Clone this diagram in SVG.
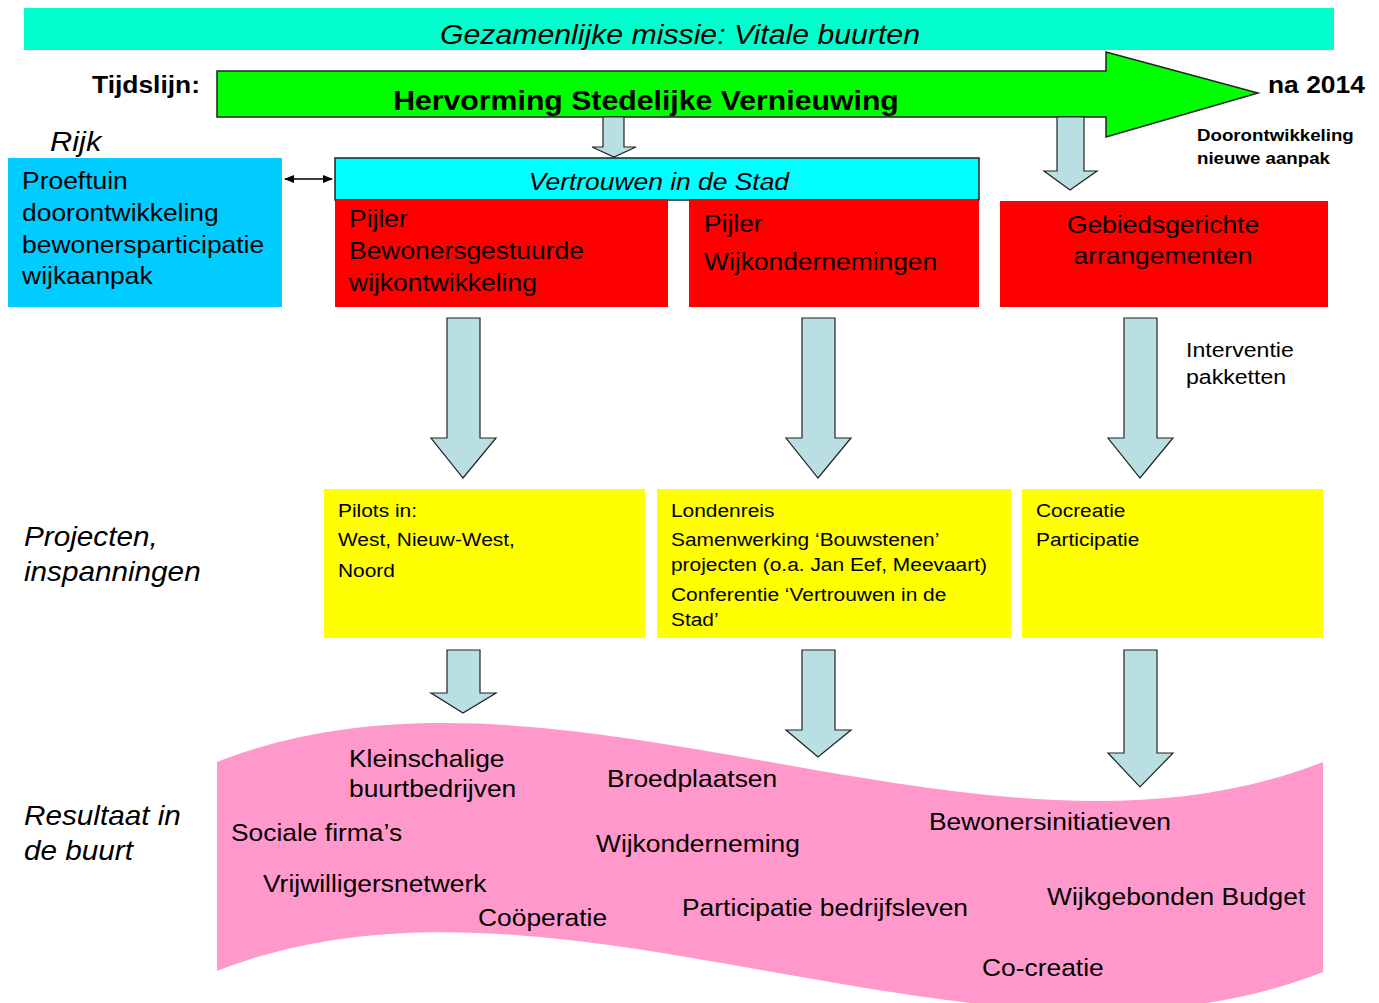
<svg xmlns="http://www.w3.org/2000/svg" width="1379" height="1003" viewBox="0 0 1379 1003">
<style>
text{font-family:"Liberation Sans",Arial,sans-serif;fill:#000;transform-box:fill-box;transform-origin:0 0;transform:scaleX(1.1)}
text.mid{transform-origin:50% 0}
text.w{transform:scaleX(1.12)}
.it{font-style:italic}
.b{font-weight:bold}
.arr{fill:#B9DFE3;stroke:#222;stroke-width:1.2}
.t24{font-size:24px}
.t19{font-size:19px}
.t27{font-size:27px}
</style>
<defs>
<marker id="ah" viewBox="0 0 10 10" refX="9" refY="5" markerWidth="7" markerHeight="7" orient="auto-start-reverse"><path d="M0,1 L10,5 L0,9 z" fill="#000"/></marker>
</defs>
<rect width="1379" height="1003" fill="#fff"/>
<g id="mission"><rect x="24" y="8" width="1310" height="42" fill="#00FFCC"/><text x="680" y="44" class="it t27 mid w" text-anchor="middle">Gezamenlijke missie: Vitale buurten</text></g>
<g id="timeline">
<text x="92" y="93" class="b" font-size="24">Tijdslijn:</text>
<path d="M217,71 H1106 V52 L1258,93 L1106,137 V117 H217 Z" fill="#00FF00" stroke="#222" stroke-width="1.5"/>
<text x="646" y="110" class="b mid w" font-size="27" text-anchor="middle">Hervorming Stedelijke Vernieuwing</text>
<text x="1268" y="93" class="b" font-size="24">na 2014</text>
<text x="1197" y="141" class="b" font-size="17">Doorontwikkeling</text>
<text x="1197" y="164" class="b" font-size="17">nieuwe aanpak</text>
</g>
<g id="rijk-label"><text x="50" y="151" class="it" font-size="28">Rijk</text></g>
<g id="proeftuin"><rect x="8" y="158" width="274" height="149" fill="#00CCFF"/>
<text class="t24" x="22"><tspan x="22" y="189">Proeftuin</tspan><tspan x="22" y="221">doorontwikkeling</tspan><tspan x="22" y="253">bewonersparticipatie</tspan><tspan x="22" y="284">wijkaanpak</tspan></text></g>
<g id="vertrouwen"><rect x="335" y="158" width="644" height="42" fill="#00FFFF" stroke="#222" stroke-width="1.5"/><text x="659" y="190" class="it t24 mid" text-anchor="middle">Vertrouwen in de Stad</text></g>
<g id="pijler1"><rect x="335" y="200" width="333" height="107" fill="#FF0000"/>
<text class="t24"><tspan x="349" y="227">Pijler</tspan><tspan x="349" y="259">Bewonersgestuurde</tspan><tspan x="349" y="291">wijkontwikkeling</tspan></text></g>
<g id="pijler2"><rect x="689" y="200" width="290" height="107" fill="#FF0000"/>
<text class="t24"><tspan x="704" y="232">Pijler</tspan><tspan x="704" y="270">Wijkondernemingen</tspan></text></g>
<g id="gebied"><rect x="1000" y="201" width="328" height="106" fill="#FF0000"/>
<text class="t24 mid" text-anchor="middle"><tspan x="1163" y="233">Gebiedsgerichte</tspan><tspan x="1163" y="264">arrangementen</tspan></text></g>
<g id="interventie-label"><text font-size="21"><tspan x="1186" y="357">Interventie</tspan><tspan x="1186" y="384">pakketten</tspan></text></g>
<g id="projecten-label"><text class="it t27"><tspan x="24" y="546">Projecten,</tspan><tspan x="24" y="581">inspanningen</tspan></text></g>
<g id="proj1"><rect x="324" y="489" width="321" height="149" fill="#FFFF00"/>
<text class="t19"><tspan x="338" y="517">Pilots in:</tspan><tspan x="338" y="546">West, Nieuw-West,</tspan><tspan x="338" y="577">Noord</tspan></text></g>
<g id="proj2"><rect x="657" y="489" width="354" height="149" fill="#FFFF00"/>
<text class="t19"><tspan x="671" y="517">Londenreis</tspan><tspan x="671" y="546">Samenwerking ‘Bouwstenen’</tspan><tspan x="671" y="571">projecten (o.a. Jan Eef, Meevaart)</tspan><tspan x="671" y="601">Conferentie ‘Vertrouwen in de</tspan><tspan x="671" y="626">Stad’</tspan></text></g>
<g id="proj3"><rect x="1022" y="489" width="301" height="149" fill="#FFFF00"/>
<text class="t19"><tspan x="1036" y="517">Cocreatie</tspan><tspan x="1036" y="546">Participatie</tspan></text></g>
<g id="resultaat-label"><text class="it t27"><tspan x="24" y="825">Resultaat in</tspan><tspan x="24" y="860">de buurt</tspan></text></g>
<g id="resultaat">
<path d="M217,762 C560,627 980,897 1323,762 V972 C980,1107 560,836 217,971 Z" fill="#FF99CC"/>
<text class="t24">
<tspan x="349" y="767">Kleinschalige</tspan><tspan x="349" y="797">buurtbedrijven</tspan>
</text>
<text x="607" y="787" class="t24">Broedplaatsen</text>
<text x="231" y="841" class="t24">Sociale firma’s</text>
<text x="596" y="852" class="t24">Wijkonderneming</text>
<text x="929" y="830" class="t24">Bewonersinitiatieven</text>
<text x="263" y="892" class="t24">Vrijwilligersnetwerk</text>
<text x="478" y="926" class="t24">Coöperatie</text>
<text x="682" y="916" class="t24">Participatie bedrijfsleven</text>
<text x="1047" y="905" class="t24">Wijkgebonden Budget</text>
<text x="982" y="976" class="t24">Co-creatie</text>
</g>
<g id="connectors">
<line x1="285" y1="179" x2="332" y2="179" stroke="#000" stroke-width="1.5" marker-start="url(#ah)" marker-end="url(#ah)"/>
<path class="arr" d="M603,117 H624 V147 H636 L614,157 L592,147 H603 Z"/>
<path class="arr" d="M1057,117 H1084 V171 H1097 L1070,190 L1044,171 H1057 Z"/>
<path class="arr" d="M447,318 H480 V438 H496 L463,478 L431,438 H447 Z"/>
<path class="arr" d="M802,318 H835 V438 H851 L818,478 L786,438 H802 Z"/>
<path class="arr" d="M1124,318 H1157 V438 H1173 L1140,478 L1108,438 H1124 Z"/>
<path class="arr" d="M447,650 H480 V693 H496 L463,713 L431,693 H447 Z"/>
<path class="arr" d="M802,650 H835 V730 H851 L818,757 L786,730 H802 Z"/>
<path class="arr" d="M1124,650 H1157 V753 H1173 L1140,787 L1108,753 H1124 Z"/>
</g>
</svg>
